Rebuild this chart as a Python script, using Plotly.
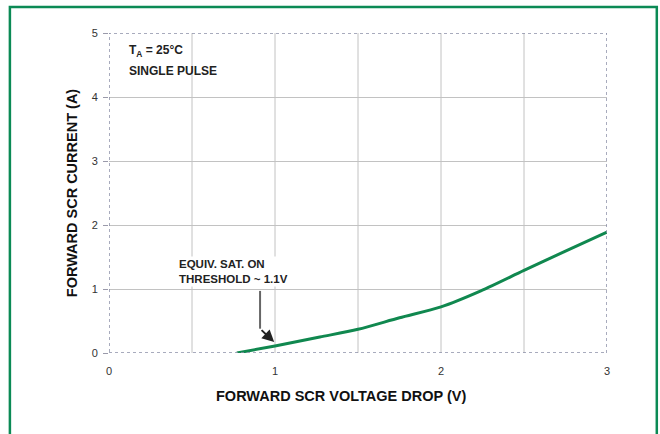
import plotly.graph_objects as go

# Data
voltage = [0.77, 1.0, 1.27, 1.5, 1.75, 2.0, 2.24, 2.5, 2.74, 3.0]
current = [0.0, 0.11, 0.25, 0.37, 0.55, 0.72, 0.97, 1.29, 1.58, 1.89]
x_ticks = [0, 1, 2, 3]
y_ticks = [0, 1, 2, 3, 4, 5]

FONT = "Liberation Sans, Arial, sans-serif"
GREEN = "#0b8a55"

fig = go.Figure()
fig.add_trace(go.Scatter(
    x=voltage, y=current, mode="lines",
    line=dict(color="#10884f", width=3, shape="spline", smoothing=0.8),
    showlegend=False, hoverinfo="skip"))

fig.update_layout(
    width=660, height=434,
    margin=dict(l=109, r=53, t=33, b=81),
    paper_bgcolor="white", plot_bgcolor="white",
    font=dict(family=FONT, color="#222", size=11),
    xaxis=dict(range=[0, 3], tickvals=x_ticks, ticktext=[str(v) for v in x_ticks],
               showgrid=False, zeroline=False, showline=False,
               ticks="", ticklabelstandoff=10, tickfont=dict(size=11, color="#333")),
    yaxis=dict(range=[0, 5], tickvals=y_ticks, showgrid=True, gridcolor="#c2c2c2",
               gridwidth=1, zeroline=False, showline=False,
               ticks="outside", ticklen=5, tickcolor="#9a9aaa", ticklabelstandoff=3,
               tickfont=dict(size=11, color="#333"),
               title=dict(text="<b>FORWARD SCR CURRENT (A)</b>",
                          font=dict(size=14.5, color="#111"), standoff=10)),
)

# x axis title (slightly left of centre as in the reference)
fig.add_annotation(xref="paper", yref="paper", x=0.466, y=-0.134,
                   xanchor="center", yanchor="middle", showarrow=False,
                   text="<b>FORWARD SCR VOLTAGE DROP (V)</b>",
                   font=dict(size=14.5, color="#111"))

# vertical grid lines every 0.5 V
for gx in [0.5, 1.0, 1.5, 2.0, 2.5]:
    fig.add_shape(type="line", xref="x", yref="y", x0=gx, x1=gx, y0=0, y1=5,
                  line=dict(color="#c2c2c2", width=1), layer="below")

# dotted plot border
fig.add_shape(type="rect", xref="x", yref="y", x0=0, x1=3, y0=0, y1=5,
              line=dict(color="#8c90a8", width=1.5, dash="dot"))

# green outer frame
fig.add_shape(type="rect", xref="paper", yref="paper",
              x0=-0.199, x1=1.100, y0=-0.30, y1=1.081,
              line=dict(color=GREEN, width=2.5))

# condition text
fig.add_annotation(xref="x", yref="y", x=0.11, y=4.72, xanchor="left", yanchor="middle",
                   text="<b>T<sub>A</sub> = 25°C</b>", showarrow=False,
                   font=dict(size=12, color="#222"))
fig.add_annotation(xref="x", yref="y", x=0.11, y=4.4, xanchor="left", yanchor="middle",
                   text="<b>SINGLE PULSE</b>", showarrow=False,
                   font=dict(size=12, color="#222"))

# threshold annotation
fig.add_annotation(xref="x", yref="y", x=0.41, y=1.28, xanchor="left", yanchor="middle",
                   text="<b>EQUIV. SAT. ON</b><br><b>THRESHOLD ~ 1.1V</b>",
                   align="left", showarrow=False, bgcolor="white",
                   font=dict(size=11.5, color="#222"))
fig.add_shape(type="line", xref="x", yref="y", x0=0.91, x1=0.91, y0=0.97, y1=0.38,
              line=dict(color="#666", width=2))
fig.add_annotation(xref="x", yref="y", axref="x", ayref="y",
                   x=0.995, y=0.17, ax=0.91, ay=0.38, text="",
                   showarrow=True, arrowhead=2, arrowsize=1.2, arrowwidth=2,
                   arrowcolor="#222")
# small mark below axis near 1
fig.add_shape(type="line", xref="x", yref="y", x0=0.96, x1=0.96, y0=-0.05, y1=-0.3,
              line=dict(color="#555", width=1))

fig.write_html("out.html", config={"displayModeBar": False},
               post_script="document.body.style.margin='0';")
